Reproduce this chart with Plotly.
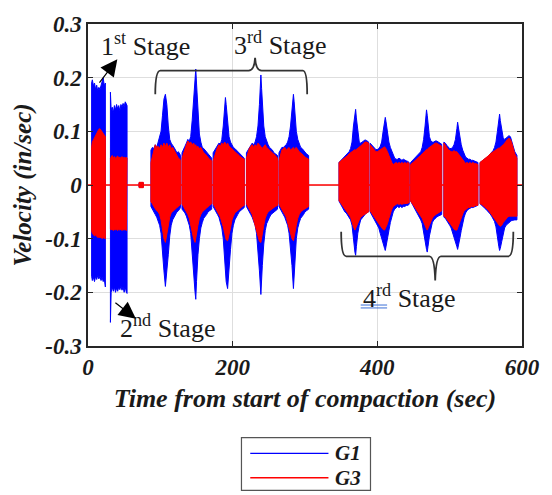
import plotly.graph_objects as go

# Velocity envelopes (in/sec) for geophones G1 and G3 during compaction.
# Each recording burst is listed as one block; None separates bursts.
T = [
    5, 6, 7.5, 9, 10.5, 12, 13.5, 15, 16.5, 18, 19.5, 21, 22.5, 24, None,
    31, 32, 33.5, 35, 36.5, 38, 39.5, 41, 42.5, 44, 45.5, 47, 48.5, 50, 51.5, 53, 54, None,
    70.5, 76.5, None,
    87, 89, 91, 93, 95, 97, 99, 101, 103, 105, 107, 109, 111, 113, 115, 117, 119, 121, 123, 125, 127, 128, None,
    130, 132, 134, 136, 138, 140, 142, 144, 146, 148, 149, 150, 152, 154, 156, 158, 160, 162, 164, 166, 168, 171, None,
    173, 175, 177, 179, 181, 183, 185, 187, 189, 190, 191, 193, 195, 197, 199, 201, 203, 205, 207, 209, 211, 213, 216, None,
    219, 221, 223, 225, 227, 229, 231, 233, 235, 237, 239, 240, 241, 243, 245, 247, 249, 251, 253, 255, 257, 259, 262, None,
    264, 266, 268, 270, 272, 274, 276, 278, 280, 282, 284, 285, 286, 288, 290, 292, 294, 296, 298, 300, 302, 305, None,
    347, 349, 351, 353, 355, 357, 359, 361, 363, 365, 367, 369, 370, 371, 373, 375, 377, 379, 381, 383, 385, 388, None,
    390, 392, 394, 396, 398, 400, 402, 404, 406, 408, 410, 411, 412, 414, 416, 418, 420, 422, 424, 426, 428, 430, 432, 434, 436, 438, 440, 442, 444, None,
    446, 448, 450, 452, 454, 456, 458, 460, 462, 464, 466, 468, 469, 470, 472, 474, 476, 478, 480, 482, 484, 486, 489, None,
    492, 494, 496, 498, 500, 502, 504, 506, 508, 510, 511, 512, 514, 516, 518, 520, 522, 524, 526, 528, 530, 532, 534, 536, 539, None,
    542, 544, 546, 548, 550, 552, 554, 556, 558, 560, 562, 564, 566, 568, 569, 570, 572, 574, 576, 578, 580, 582, 584, 586, 588, 590, 593,
]

G1_HI = [
    0.19, 0.196, 0.185, 0.19, 0.178, 0.186, 0.175, 0.182, 0.178, 0.185, 0.19, 0.2, 0.185, 0.19, None,
    0.173, 0.14, 0.145, 0.135, 0.148, 0.14, 0.15, 0.142, 0.148, 0.138, 0.15, 0.145, 0.152, 0.146, 0.155, 0.15, 0.148, None,
    0.004, 0.004, None,
    0.065, 0.07, 0.068, 0.075, 0.07, 0.08, 0.085, 0.1, 0.13, 0.16, 0.169, 0.15, 0.11, 0.085, 0.078, 0.075, 0.07, 0.065, 0.06, 0.062, 0.058, 0.055, None,
    0.06, 0.065, 0.072, 0.078, 0.085, 0.082, 0.09, 0.12, 0.16, 0.2, 0.216, 0.19, 0.13, 0.095, 0.08, 0.07, 0.068, 0.065, 0.06, 0.058, 0.055, 0.05, None,
    0.06, 0.065, 0.07, 0.074, 0.078, 0.076, 0.085, 0.11, 0.15, 0.163, 0.15, 0.115, 0.09, 0.08, 0.075, 0.07, 0.068, 0.065, 0.062, 0.06, 0.058, 0.055, 0.05, None,
    0.06, 0.065, 0.07, 0.075, 0.078, 0.075, 0.08, 0.09, 0.11, 0.15, 0.205, 0.18, 0.15, 0.11, 0.09, 0.08, 0.075, 0.07, 0.068, 0.065, 0.06, 0.058, 0.055, None,
    0.06, 0.065, 0.07, 0.07, 0.072, 0.075, 0.08, 0.09, 0.11, 0.14, 0.169, 0.155, 0.13, 0.1, 0.085, 0.075, 0.07, 0.068, 0.065, 0.06, 0.058, 0.055, None,
    0.042, 0.045, 0.048, 0.05, 0.052, 0.055, 0.058, 0.062, 0.068, 0.08, 0.11, 0.135, 0.141, 0.125, 0.095, 0.08, 0.078, 0.08, 0.082, 0.084, 0.083, 0.08, None,
    0.078, 0.075, 0.07, 0.068, 0.066, 0.066, 0.068, 0.072, 0.08, 0.1, 0.12, 0.126, 0.118, 0.095, 0.08, 0.07, 0.062, 0.055, 0.05, 0.048, 0.048, 0.05, 0.048, 0.046, 0.048, 0.046, 0.045, 0.044, 0.042, None,
    0.042, 0.045, 0.048, 0.05, 0.052, 0.055, 0.058, 0.062, 0.07, 0.085, 0.11, 0.14, 0.13, 0.11, 0.09, 0.082, 0.08, 0.08, 0.082, 0.082, 0.08, 0.078, 0.076, None,
    0.08, 0.078, 0.074, 0.07, 0.068, 0.068, 0.07, 0.075, 0.085, 0.105, 0.117, 0.108, 0.09, 0.075, 0.065, 0.058, 0.052, 0.05, 0.048, 0.048, 0.046, 0.046, 0.045, 0.044, 0.042, None,
    0.042, 0.044, 0.045, 0.048, 0.05, 0.052, 0.055, 0.058, 0.06, 0.064, 0.07, 0.08, 0.1, 0.125, 0.132, 0.12, 0.1, 0.088, 0.085, 0.088, 0.09, 0.092, 0.09, 0.082, 0.072, 0.062, 0.055,
]

G1_LO = [
    -0.17, -0.178, -0.172, -0.18, -0.17, -0.176, -0.168, -0.175, -0.17, -0.178, -0.172, -0.18, -0.175, -0.19, None,
    -0.256, -0.2, -0.19, -0.198, -0.19, -0.2, -0.192, -0.198, -0.19, -0.195, -0.188, -0.196, -0.19, -0.2, -0.19, -0.2, -0.202, None,
    -0.004, -0.004, None,
    -0.04, -0.045, -0.05, -0.055, -0.06, -0.065, -0.075, -0.09, -0.12, -0.16, -0.189, -0.17, -0.13, -0.095, -0.075, -0.065, -0.058, -0.055, -0.05, -0.048, -0.045, -0.042, None,
    -0.045, -0.048, -0.052, -0.058, -0.065, -0.075, -0.09, -0.12, -0.16, -0.2, -0.213, -0.18, -0.13, -0.1, -0.08, -0.07, -0.062, -0.058, -0.055, -0.05, -0.048, -0.045, None,
    -0.04, -0.045, -0.05, -0.055, -0.06, -0.068, -0.08, -0.1, -0.13, -0.16, -0.18, -0.193, -0.16, -0.12, -0.09, -0.075, -0.065, -0.06, -0.055, -0.05, -0.048, -0.045, -0.042, None,
    -0.04, -0.045, -0.05, -0.055, -0.06, -0.065, -0.075, -0.09, -0.12, -0.16, -0.204, -0.18, -0.15, -0.11, -0.085, -0.072, -0.065, -0.06, -0.055, -0.052, -0.05, -0.048, -0.045, None,
    -0.04, -0.045, -0.05, -0.055, -0.06, -0.065, -0.075, -0.09, -0.115, -0.15, -0.193, -0.17, -0.14, -0.1, -0.08, -0.07, -0.062, -0.058, -0.055, -0.05, -0.048, -0.045, None,
    -0.03, -0.035, -0.04, -0.045, -0.05, -0.052, -0.055, -0.06, -0.065, -0.075, -0.1, -0.125, -0.131, -0.115, -0.09, -0.075, -0.065, -0.06, -0.058, -0.055, -0.052, -0.05, None,
    -0.05, -0.055, -0.06, -0.065, -0.07, -0.075, -0.08, -0.09, -0.1, -0.11, -0.118, -0.122, -0.115, -0.1, -0.085, -0.07, -0.058, -0.05, -0.045, -0.042, -0.04, -0.042, -0.04, -0.042, -0.04, -0.04, -0.038, -0.038, -0.036, None,
    -0.03, -0.035, -0.04, -0.045, -0.05, -0.055, -0.06, -0.065, -0.072, -0.085, -0.105, -0.12, -0.125, -0.115, -0.095, -0.08, -0.07, -0.065, -0.062, -0.06, -0.058, -0.056, -0.055, None,
    -0.06, -0.062, -0.065, -0.07, -0.075, -0.08, -0.088, -0.095, -0.105, -0.115, -0.12, -0.115, -0.1, -0.085, -0.07, -0.06, -0.052, -0.048, -0.045, -0.043, -0.042, -0.042, -0.04, -0.04, -0.038, None,
    -0.035, -0.038, -0.04, -0.042, -0.045, -0.048, -0.05, -0.054, -0.058, -0.062, -0.068, -0.078, -0.095, -0.115, -0.122, -0.118, -0.105, -0.09, -0.08, -0.075, -0.072, -0.07, -0.068, -0.066, -0.065, -0.065, -0.065,
]

G3_HI = [
    0.07, 0.08, 0.084, 0.088, 0.09, 0.095, 0.1, 0.104, 0.105, 0.102, 0.1, 0.098, 0.095, 0.09, None,
    0.05, 0.052, 0.055, 0.05, 0.053, 0.05, 0.052, 0.054, 0.05, 0.052, 0.05, 0.053, 0.05, 0.052, 0.05, 0.052, 0.05, None,
    0.005, 0.005, None,
    0.042, 0.055, 0.065, 0.075, 0.07, 0.072, 0.068, 0.075, 0.07, 0.078, 0.072, 0.078, 0.07, 0.075, 0.068, 0.07, 0.065, 0.06, 0.055, 0.05, 0.048, 0.045, None,
    0.05, 0.06, 0.07, 0.075, 0.082, 0.078, 0.08, 0.075, 0.078, 0.072, 0.075, 0.07, 0.072, 0.068, 0.07, 0.065, 0.06, 0.058, 0.055, 0.05, 0.048, 0.045, None,
    0.045, 0.055, 0.065, 0.07, 0.075, 0.072, 0.078, 0.075, 0.08, 0.078, 0.075, 0.078, 0.072, 0.07, 0.068, 0.065, 0.062, 0.06, 0.058, 0.055, 0.052, 0.05, 0.048, None,
    0.05, 0.06, 0.068, 0.072, 0.075, 0.07, 0.075, 0.072, 0.078, 0.075, 0.072, 0.07, 0.068, 0.072, 0.075, 0.07, 0.068, 0.065, 0.062, 0.06, 0.058, 0.055, 0.05, None,
    0.045, 0.055, 0.065, 0.068, 0.07, 0.065, 0.068, 0.07, 0.065, 0.068, 0.07, 0.065, 0.068, 0.07, 0.065, 0.062, 0.06, 0.058, 0.055, 0.052, 0.05, 0.048, None,
    0.042, 0.044, 0.046, 0.048, 0.05, 0.052, 0.055, 0.058, 0.06, 0.062, 0.065, 0.066, 0.065, 0.066, 0.068, 0.07, 0.072, 0.075, 0.078, 0.08, 0.08, 0.078, None,
    0.075, 0.072, 0.068, 0.065, 0.062, 0.062, 0.064, 0.066, 0.068, 0.07, 0.071, 0.07, 0.068, 0.062, 0.055, 0.048, 0.042, 0.038, 0.04, 0.042, 0.04, 0.042, 0.04, 0.042, 0.04, 0.042, 0.04, 0.042, 0.04, None,
    0.038, 0.04, 0.042, 0.045, 0.048, 0.05, 0.052, 0.055, 0.058, 0.06, 0.063, 0.066, 0.066, 0.068, 0.07, 0.072, 0.074, 0.076, 0.078, 0.078, 0.076, 0.075, 0.072, None,
    0.078, 0.075, 0.07, 0.066, 0.064, 0.062, 0.062, 0.064, 0.062, 0.062, 0.06, 0.058, 0.055, 0.05, 0.046, 0.042, 0.04, 0.042, 0.04, 0.042, 0.04, 0.042, 0.04, 0.04, 0.038, None,
    0.042, 0.044, 0.046, 0.048, 0.05, 0.052, 0.055, 0.058, 0.06, 0.062, 0.064, 0.066, 0.068, 0.069, 0.069, 0.07, 0.072, 0.075, 0.078, 0.082, 0.085, 0.087, 0.085, 0.078, 0.068, 0.058, 0.05,
]

G3_LO = [
    -0.085, -0.09, -0.092, -0.095, -0.093, -0.096, -0.098, -0.097, -0.098, -0.097, -0.1, -0.098, -0.099, -0.1, None,
    -0.082, -0.084, -0.082, -0.085, -0.083, -0.084, -0.082, -0.085, -0.083, -0.084, -0.082, -0.085, -0.083, -0.084, -0.082, -0.085, -0.083, None,
    -0.005, -0.005, None,
    -0.031, -0.035, -0.04, -0.045, -0.048, -0.05, -0.055, -0.065, -0.08, -0.1, -0.107, -0.095, -0.075, -0.06, -0.052, -0.05, -0.048, -0.045, -0.042, -0.04, -0.038, -0.036, None,
    -0.035, -0.04, -0.045, -0.05, -0.055, -0.062, -0.072, -0.085, -0.1, -0.107, -0.1, -0.09, -0.075, -0.062, -0.055, -0.05, -0.048, -0.045, -0.042, -0.04, -0.038, -0.035, None,
    -0.035, -0.04, -0.045, -0.05, -0.055, -0.06, -0.068, -0.078, -0.09, -0.098, -0.102, -0.104, -0.095, -0.08, -0.065, -0.058, -0.052, -0.05, -0.048, -0.045, -0.043, -0.04, -0.038, None,
    -0.035, -0.04, -0.045, -0.05, -0.055, -0.06, -0.07, -0.08, -0.095, -0.105, -0.107, -0.1, -0.09, -0.075, -0.062, -0.055, -0.05, -0.048, -0.046, -0.044, -0.042, -0.04, -0.038, None,
    -0.035, -0.04, -0.045, -0.05, -0.055, -0.06, -0.068, -0.078, -0.09, -0.1, -0.104, -0.1, -0.09, -0.075, -0.062, -0.055, -0.05, -0.048, -0.046, -0.044, -0.042, -0.04, None,
    -0.029, -0.033, -0.038, -0.042, -0.046, -0.05, -0.052, -0.056, -0.06, -0.068, -0.078, -0.084, -0.084, -0.08, -0.072, -0.065, -0.06, -0.058, -0.056, -0.054, -0.052, -0.05, None,
    -0.048, -0.052, -0.056, -0.06, -0.064, -0.068, -0.072, -0.076, -0.08, -0.083, -0.084, -0.084, -0.08, -0.072, -0.062, -0.052, -0.045, -0.04, -0.038, -0.036, -0.035, -0.036, -0.035, -0.036, -0.035, -0.035, -0.034, -0.034, -0.033, None,
    -0.03, -0.034, -0.038, -0.042, -0.046, -0.05, -0.054, -0.058, -0.062, -0.068, -0.075, -0.082, -0.084, -0.082, -0.075, -0.068, -0.062, -0.058, -0.056, -0.054, -0.052, -0.05, -0.048, None,
    -0.058, -0.06, -0.062, -0.066, -0.07, -0.074, -0.078, -0.082, -0.084, -0.084, -0.083, -0.08, -0.072, -0.062, -0.054, -0.048, -0.046, -0.044, -0.042, -0.042, -0.04, -0.04, -0.04, -0.038, -0.038, None,
    -0.035, -0.036, -0.038, -0.04, -0.042, -0.045, -0.048, -0.052, -0.055, -0.058, -0.062, -0.066, -0.07, -0.074, -0.076, -0.077, -0.075, -0.07, -0.066, -0.063, -0.06, -0.058, -0.058, -0.058, -0.058, -0.058, -0.058,
]

# Quiet record between bursts (sensor at rest)
BASE_T = [0, 600]
BASE_V = [0, 0]

X_TICKS = [0, 200, 400, 600]
Y_TICKS = [-0.3, -0.2, -0.1, 0, 0.1, 0.2, 0.3]
Y_TICK_TEXT = ["-0.3", "-0.2", "-0.1", "0", "0.1", "0.2", "0.3"]

SERIES = [("G1", "#0000ff"), ("G3", "#ff0000")]


def split_blocks(t, hi, lo):
    blocks, cur = [], []
    for a, b, c in zip(t, hi, lo):
        if a is None:
            if cur:
                blocks.append(cur)
            cur = []
        else:
            cur.append((a, b, c))
    if cur:
        blocks.append(cur)
    return blocks


def envelope_polygon(t, hi, lo):
    xs, ys = [], []
    for blk in split_blocks(t, hi, lo):
        bt = [p[0] for p in blk]
        bh = [p[1] for p in blk]
        bl = [p[2] for p in blk]
        xs += bt + bt[::-1] + [bt[0], None]
        ys += bh + bl[::-1] + [bh[0], None]
    return xs, ys


# figure geometry (pixels) used to place decorations
W, H = 552, 495
ML, MR, MT, MB = 88, 20, 16, 149
PW, PH = W - ML - MR, H - MT - MB


def px(x):
    return (x - ML) / PW


def py(y):
    return (H - MB - y) / PH


fig = go.Figure()

gx, gy = envelope_polygon(T, G1_HI, G1_LO)
fig.add_trace(go.Scatter(x=gx, y=gy, mode="lines", fill="toself",
                         fillcolor="#0000ff", line=dict(color="#0000ff", width=1),
                         name="G1", showlegend=False, hoverinfo="skip"))
rx, ry = envelope_polygon(T, G3_HI, G3_LO)
fig.add_trace(go.Scatter(x=BASE_T, y=BASE_V, mode="lines",
                         line=dict(color="#ff0000", width=1.3),
                         showlegend=False, hoverinfo="skip"))
fig.add_trace(go.Scatter(x=rx, y=ry, mode="lines", fill="toself",
                         fillcolor="#ff0000", line=dict(color="#ff0000", width=1),
                         name="G3", showlegend=False, hoverinfo="skip"))

SERIF = "Liberation Serif, Times New Roman, Times, DejaVu Serif, serif"
INK = "#1a1a1a"
BOLD_IT = "<b><i>{}</i></b>"
tick_font = dict(family=SERIF, size=23, color=INK)

fig.update_layout(
    width=W, height=H,
    margin=dict(l=ML, r=MR, t=MT, b=MB),
    paper_bgcolor="white", plot_bgcolor="white",
    showlegend=False,
    xaxis=dict(
        range=[0, 600], tickvals=X_TICKS,
        ticktext=[BOLD_IT.format(v) for v in X_TICKS],
        showgrid=True, gridcolor="#dedede", gridwidth=1, zeroline=False,
        showline=True, linecolor="#262626", linewidth=1.5, mirror="ticks",
        ticks="inside", ticklen=5, tickcolor="#262626", tickfont=tick_font,
        title=dict(text=BOLD_IT.format("Time from start of compaction (sec)"), standoff=9,
                   font=dict(family=SERIF, size=26, color=INK)),
    ),
    yaxis=dict(
        range=[-0.3, 0.3], tickvals=Y_TICKS,
        ticktext=[BOLD_IT.format(s) for s in Y_TICK_TEXT],
        showgrid=True, gridcolor="#dedede", gridwidth=1, zeroline=False,
        showline=True, linecolor="#262626", linewidth=1.5, mirror="ticks",
        ticks="inside", ticklen=5, tickcolor="#262626", tickfont=tick_font,
        title=dict(text=BOLD_IT.format("Velocity (in/sec)"), standoff=6,
                   font=dict(family=SERIF, size=25, color=INK)),
    ),
)

# stage labels
label_font = dict(family=SERIF, size=26, color=INK)
for text, x, y in [
    ("1<sup>st</sup> Stage", 99, 37),
    ("3<sup>rd</sup> Stage", 235, 36),
    ("2<sup>nd</sup> Stage", 119, 326),
    ("4<sup>rd</sup> Stage", 367, 295),
]:
    fig.add_annotation(x=px(x), y=py(y), xref="paper", yref="paper", text=text,
                       showarrow=False, xanchor="left", yanchor="middle", font=label_font)

# arrows pointing at the first two stages
fig.add_annotation(x=px(118), y=py(52), xref="paper", yref="paper", ax=-19, ay=25,
                   text="", showarrow=True, arrowhead=2, arrowsize=2.8, arrowwidth=1.2,
                   arrowcolor="black")
fig.add_annotation(x=px(137), y=py(318), xref="paper", yref="paper", ax=-22, ay=-17,
                   text="", showarrow=True, arrowhead=2, arrowsize=2.8, arrowwidth=1.2,
                   arrowcolor="black")

# curly braces grouping the 3rd and 4th stages
brace = dict(color="#333333", width=1.8)
fig.add_shape(type="path", xref="x", yref="y", line=brace,
              path="M 93,0.169 Q 93,0.213 100,0.213 L 222,0.213 Q 230,0.213 231,0.237 "
                   "Q 232,0.213 240,0.213 L 297,0.213 Q 303,0.213 303,0.169")
fig.add_shape(type="path", xref="x", yref="y", line=brace,
              path="M 350,-0.087 Q 350,-0.133 357,-0.133 L 472,-0.133 Q 479,-0.133 480,-0.178 "
                   "Q 481,-0.133 488,-0.133 L 581,-0.133 Q 588,-0.133 588,-0.087")

# double underline beneath "4rd"
for yy in (304, 307):
    fig.add_shape(type="line", xref="paper", yref="paper", x0=px(367), x1=px(394),
                  y0=py(yy), y1=py(yy), line=dict(color="#3b6fd6", width=1))

# legend box
fig.add_shape(type="rect", xref="paper", yref="paper", x0=px(245), x1=px(377),
              y0=py(494), y1=py(440), line=dict(color="#555555", width=1.2),
              fillcolor="white")
for (name, color), yy in zip(SERIES, (456, 481)):
    fig.add_shape(type="line", xref="paper", yref="paper", x0=px(254), x1=px(334),
                  y0=py(yy), y1=py(yy), line=dict(color=color, width=1.3))
    fig.add_annotation(x=px(339), y=py(yy), xref="paper", yref="paper",
                       text=BOLD_IT.format(name),
                       showarrow=False, xanchor="left", yanchor="middle",
                       font=dict(family=SERIF, size=21, color=INK))

fig.write_html("out.html")
